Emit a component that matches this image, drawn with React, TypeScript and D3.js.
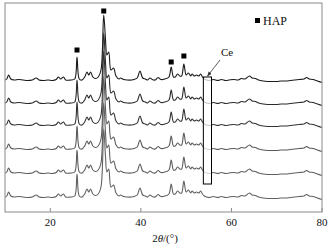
import React from "react";
import * as d3 from "d3";

// XRD profile (2θ, intensity above baseline, a.u.)
const profileTheta = [10,10.4,10.8,11.3,12,13,14,15,16,16.9,17.5,18.5,19.5,20.5,21.3,21.8,22.3,22.9,23.4,24.5,25.4,25.9,26.4,27,27.6,28.1,28.5,28.9,29.4,30,30.6,31.2,31.8,32.2,32.5,32.9,33.4,34.0,34.5,35.2,35.5,36.2,37,38,38.5,39.2,39.8,40.4,41,41.5,42,42.5,43.2,43.8,44.4,45.3,46.2,46.7,47.2,47.6,48.1,48.6,49.0,49.5,50.0,50.5,51,51.3,51.8,52.3,52.8,53.2,53.6,54,54.5,55.2,56,57,57.8,58.7,59.5,60.5,61.5,62.2,63,64,64.6,65.3,66,67,68,69,70,71,72,73,74,75,76,76.6,77.2,78,79,80];
const profileI = [0,1,5,1,0,0.5,0,-0.5,0,2,0,-0.5,0,-0.5,0.5,3,1,3,0,0,1,23,1,0,3,8,5,8,3,1.5,3,10,65,40,25,28,10,12,4,1,2,0.5,0,0,0.5,2,9,2,1,0,2,0.5,0,2.5,0.5,1,3,13,3,3,6,4,4,16,5,7,4,6,4,5,4,6,3,1,0,-0.5,0.5,-0.5,0.5,-0.5,0,0.5,0,1.5,1,4,2,1.5,0,-1,-1.5,-1.5,-1.5,-1,-1,-0.5,0,0.5,1,2.5,1,0.5,-1,-2.5];

// six samples: baseline offset, main (211) peak height, colour
const seriesNames = ["S1", "S2", "S3", "S4", "S5", "S6"];
const seriesOffset = [132, 109, 87, 63, 39, 15];
const seriesMainPeak = [65, 70, 74, 72, 70, 68];
const seriesColor = ["#1a1a1a", "#2a2a2a", "#333333", "#5a5a5a", "#5e5e5e", "#626262"];

// HAP markers (2θ, intensity above top baseline)
const hapTheta = [25.9, 31.8, 46.7, 49.5];
const hapI = [30, 69, 18, 24];

const xTicks = [20, 40, 60, 80];

const W = 335, H = 250;
const L = 5, R = 322, T = 3, B = 212;
const FONT = "'Liberation Serif', 'Times New Roman', serif";

export default function App() {
  const x = d3.scaleLinear().domain([10, 80]).range([L, R]);
  const y = d3.scaleLinear().domain([0, 209]).range([B, T]);
  const line = d3
    .line<[number, number]>()
    .x((d) => x(d[0]))
    .y((d) => y(d[1]))
    .curve(d3.curveCatmullRom.alpha(0.5));

  const mainIdx = profileTheta.indexOf(31.8);
  const boxX0 = x(53.8), boxX1 = x(55.6);
  const ts = { fontFamily: FONT };

  return (
    <svg
      width={W}
      height={H}
      style={{ position: "absolute", left: 0, top: 0, background: "#fff" }}
    >
      <defs>
        <marker id="ah" viewBox="0 0 10 10" refX="9" refY="5" markerWidth="6" markerHeight="6" orient="auto">
          <path d="M0,1 L10,5 L0,9 z" fill="#333" />
        </marker>
      </defs>
      {seriesNames.map((n, si) => {
        const pts: [number, number][] = profileTheta.map((t, i) => [
          t,
          seriesOffset[si] + (i === mainIdx ? seriesMainPeak[si] : profileI[i]),
        ]);
        return (
          <path key={n} d={line(pts) || ""} fill="none" stroke={seriesColor[si]} strokeWidth={1.1} />
        );
      })}
      {hapTheta.map((t, i) => (
        <rect key={t} x={x(t) - 2.5} y={y(seriesOffset[0] + hapI[i]) - 2.5} width={5} height={5} fill="#000" />
      ))}
      <rect x={boxX0} y={77} width={boxX1 - boxX0} height={107} fill="#fff" fillOpacity={0.75} stroke="#000" strokeWidth={1} />
      <line x1={220} y1={60} x2={207.5} y2={76} stroke="#333" strokeWidth={0.8} markerEnd="url(#ah)" />
      <text x={227} y={56} fontSize={11} textAnchor="middle" fill="#111" style={ts}>Ce</text>
      <rect x={255} y={18} width={5} height={5} fill="#000" />
      <text x={263} y={24.5} fontSize={12} fill="#111" style={ts}>HAP</text>
      <rect x={L} y={T} width={R - L} height={B - T} fill="none" stroke="#8a8a8a" strokeWidth={1} />
      {xTicks.map((t) => (
        <g key={t}>
          <line x1={x(t)} x2={x(t)} y1={B} y2={B - 4} stroke="#8a8a8a" />
          <text x={x(t)} y={226} fontSize={11} textAnchor="middle" fill="#111" style={ts}>{t}</text>
        </g>
      ))}
      <text x={165} y={242} fontSize={11} textAnchor="middle" fill="#111" style={ts}>
        2<tspan fontStyle="italic">θ</tspan>/(°)
      </text>
    </svg>
  );
}
